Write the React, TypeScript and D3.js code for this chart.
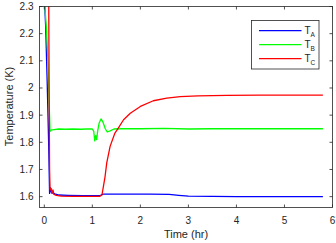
import React from 'react';
import * as d3 from 'd3';

// series
const timeA = [0, 0.03, 0.06, 0.09, 0.11, 0.13, 0.15, 0.18, 0.22, 0.3, 0.5, 0.8, 1.1, 1.17, 1.22, 1.4, 1.8, 2.2, 2.6, 2.8, 3.0, 3.5, 4.0, 5.0, 5.8];
const tempA = [2.34, 2.22, 2.02, 1.8, 1.612, 1.632, 1.615, 1.613, 1.61, 1.606, 1.605, 1.604, 1.604, 1.605, 1.609, 1.609, 1.609, 1.609, 1.608, 1.605, 1.602, 1.601, 1.6, 1.6, 1.6];

const timeB = [0, 0.02, 0.05, 0.08, 0.1, 0.12, 0.14, 0.2, 0.3, 0.45, 0.6, 0.75, 0.9, 1.0, 1.03, 1.05, 1.07, 1.09, 1.11, 1.14, 1.18, 1.22, 1.27, 1.31, 1.37, 1.45, 1.6, 2.0, 2.5, 3.0, 3.5, 4.0, 5.0, 5.8];
const tempB = [2.35, 2.28, 2.2, 2.08, 1.95, 1.84, 1.845, 1.847, 1.849, 1.848, 1.849, 1.848, 1.849, 1.849, 1.84, 1.805, 1.825, 1.81, 1.84, 1.87, 1.886, 1.875, 1.85, 1.838, 1.842, 1.849, 1.85, 1.85, 1.851, 1.849, 1.85, 1.85, 1.85, 1.85];

const timeC = [0.09, 0.1, 0.11, 0.12, 0.14, 0.16, 0.18, 0.2, 0.25, 0.35, 0.6, 0.9, 1.15, 1.2, 1.23, 1.265, 1.3, 1.37, 1.47, 1.54, 1.65, 1.79, 2.0, 2.27, 2.55, 2.83, 3.2, 3.8, 4.5, 5.2, 5.8];
const tempC = [2.4, 2.0, 1.7, 1.625, 1.63, 1.612, 1.625, 1.608, 1.605, 1.602, 1.601, 1.601, 1.601, 1.606, 1.637, 1.674, 1.724, 1.785, 1.834, 1.852, 1.883, 1.907, 1.932, 1.953, 1.9625, 1.968, 1.971, 1.973, 1.974, 1.974, 1.974];

const xTicks = [0, 1, 2, 3, 4, 5, 6];
const yTicks = [1.6, 1.7, 1.8, 1.9, 2, 2.1, 2.2, 2.3];

const seriesNames = ['A', 'B', 'C'];
const seriesColors = ['#0000ff', '#00ff00', '#ff0000'];

const W = 336;
const H = 243;
const left = 39.5, right = 332.5, top = 6.5, bottom = 207.5;
const axisColor = '#262626';
const font = 'Liberation Sans, Arial, sans-serif';

export default function App() {
  const x = d3.scaleLinear().domain([-0.1, 6]).range([left, right]);
  const y = d3.scaleLinear().domain([1.56, 2.3]).range([bottom, top]);

  const line = d3.line<[number, number]>()
    .x(d => x(d[0]))
    .y(d => y(d[1]));

  const series = [
    d3.zip(timeA, tempA) as [number, number][],
    d3.zip(timeB, tempB) as [number, number][],
    d3.zip(timeC, tempC) as [number, number][],
  ];

  const tickLen = 3;

  return (
    <div style={{ position: 'fixed', left: 0, top: 0 }}>
      <svg width={W} height={H} style={{ display: 'block', background: '#fff' }}>
        <defs>
          <clipPath id="plot">
            <rect x={left} y={top} width={right - left} height={bottom - top} />
          </clipPath>
        </defs>

        <g clipPath="url(#plot)">
          {series.map((s, i) => (
            <path key={i} d={line(s) ?? ''} fill="none" stroke={seriesColors[i]} strokeWidth={1.3} strokeLinejoin="round" />
          ))}
        </g>

        {/* box and ticks */}
        <rect x={left} y={top} width={right - left} height={bottom - top} fill="none" stroke={axisColor} strokeWidth={0.8} />
        {xTicks.map(t => (
          <g key={'x' + t}>
            <line x1={x(t)} x2={x(t)} y1={bottom} y2={bottom - tickLen} stroke={axisColor} strokeWidth={0.8} />
            <line x1={x(t)} x2={x(t)} y1={top} y2={top + tickLen} stroke={axisColor} strokeWidth={0.8} />
            <text x={x(t)} y={220.5} dy="0.35em" textAnchor="middle" fontSize={10} fontFamily={font} fill={axisColor}>{t}</text>
          </g>
        ))}
        {yTicks.map(t => (
          <g key={'y' + t}>
            <line x1={left} x2={left + tickLen} y1={y(t)} y2={y(t)} stroke={axisColor} strokeWidth={0.8} />
            <line x1={right} x2={right - tickLen} y1={y(t)} y2={y(t)} stroke={axisColor} strokeWidth={0.8} />
            <text x={33.5} y={y(t)} dy="0.35em" textAnchor="end" fontSize={10} fontFamily={font} fill={axisColor}>{d3.format('~g')(t)}</text>
          </g>
        ))}

        <text x={(left + right) / 2} y={234} dy="0.35em" textAnchor="middle" fontSize={11} fontFamily={font} fill={axisColor}>Time (hr)</text>
        <text transform={`translate(9.5,106.5) rotate(-90)`} dy="0.35em" textAnchor="middle" fontSize={11} fontFamily={font} fill={axisColor}>Temperature (K)</text>

        {/* legend */}
        <rect x={251.5} y={20.5} width={67.5} height={48.5} fill="#fff" stroke={axisColor} strokeWidth={0.8} />
        {seriesNames.map((n, i) => {
          const ly = 30.7 + i * 14;
          return (
            <g key={n}>
              <line x1={259} x2={301.5} y1={ly} y2={ly} stroke={seriesColors[i]} strokeWidth={1.3} />
              <text x={304.5} y={ly + 3.5} fontSize={10} fontFamily={font} fill={axisColor}>
                T<tspan fontSize={6.5} dy={2.5}>{n}</tspan>
              </text>
            </g>
          );
        })}
      </svg>
    </div>
  );
}
